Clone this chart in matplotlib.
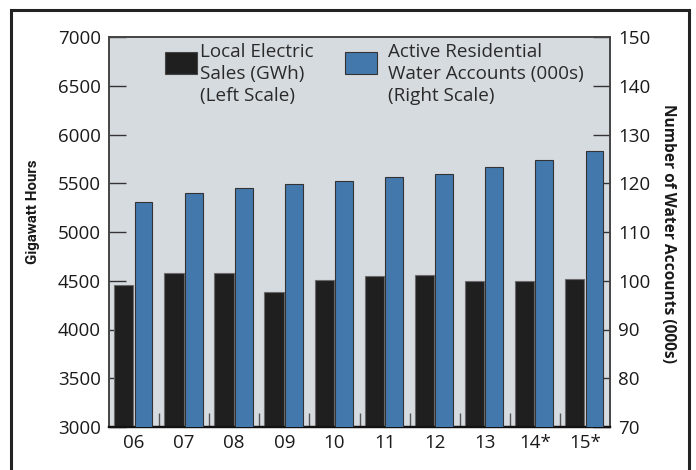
import matplotlib
matplotlib.use("Agg")
import matplotlib.pyplot as plt
from matplotlib.patches import Rectangle
import numpy as np

plt.rcParams['font.family'] = ['Open Sans', 'DejaVu Sans']

years = ["06", "07", "08", "09", "10", "11", "12", "13", "14*", "15*"]
electric_gwh = [4453, 4583, 4576, 4385, 4511, 4549, 4556, 4497, 4500, 4518]
water_accounts = [116.2, 117.9, 119.0, 119.8, 120.5, 121.35, 122.0, 123.3, 124.8, 126.55]
left_ticks = [3000, 3500, 4000, 4500, 5000, 5500, 6000, 6500, 7000]
right_ticks = [70, 80, 90, 100, 110, 120, 130, 140, 150]
legend_electric = ["Local Electric", "Sales (GWh)", "(Left Scale)"]
legend_water = ["Active Residential", "Water Accounts (000s)", "(Right Scale)"]

W, H = 696, 470
fig = plt.figure(figsize=(W / 100, H / 100), dpi=100)
fig.patch.set_facecolor('white')

# outer frame
fig.patches.append(Rectangle((11 / W, -0.05), (689 - 11) / W, 1 - 10 / H + 0.05,
                             transform=fig.transFigure, fill=False,
                             edgecolor='#222222', linewidth=2.2))

L, R, T, B = 109, 610, 37, 427
ax = fig.add_axes([L / W, 1 - B / H, (R - L) / W, (B - T) / H])
ax2 = ax.twinx()

ax.set_facecolor('#d6dbe0')
x = np.arange(len(years))
black = '#1f1f20'
blue = '#4378ac'
ax.bar(x - 0.205, electric_gwh, width=0.385, color=black, edgecolor='#6a6a6a',
       linewidth=0.8, zorder=3)
ax2.bar(x + 0.19, water_accounts, width=0.355, color=blue, edgecolor='#333333',
        linewidth=0.8, zorder=3)

ax.set_xlim(-0.5, len(years) - 0.5)
ax.set_ylim(3000, 7000)
ax2.set_ylim(70, 150)
ax.set_yticks(left_ticks)
ax2.set_yticks(right_ticks)
ax.set_xticks(x)
ax.set_xticklabels(years)
ax.set_xticks(np.arange(len(years) - 1) + 0.5, minor=True)

ax.tick_params(axis='y', direction='in', length=12, width=1, color='#333333',
               labelsize=13.5, pad=6, labelcolor='#1a1a1a')
ax2.tick_params(axis='y', direction='in', length=12, width=1, color='#333333',
                labelsize=13.5, pad=6, labelcolor='#1a1a1a')
ax.tick_params(axis='x', which='major', length=0, labelsize=13.5, pad=5,
               labelcolor='#1a1a1a')
ax.tick_params(axis='x', which='minor', direction='in', length=10, width=1,
               color='#555555')

for a in (ax, ax2):
    for s in a.spines.values():
        s.set_color('#444444')
        s.set_linewidth(1.2)
    a.spines['bottom'].set_color('#111111')
    a.spines['bottom'].set_linewidth(1.6)

fig.text(33 / W, 1 - 212 / H, 'Gigawatt Hours', rotation=90, ha='center',
         va='center', fontsize=10.8, fontweight='bold', color='#1a1a1a',
         family=['Roboto', 'DejaVu Sans'])
fig.text(668 / W, 1 - 234 / H, 'Number of Water Accounts (000s)', rotation=270,
         ha='center', va='center', fontsize=11.2, fontweight='bold', color='#1a1a1a')

# legend
tr = fig.transFigure
fig.patches.append(Rectangle((165 / W, 1 - 74 / H), 32 / W, 22 / H, transform=tr,
                             facecolor=black, edgecolor='#444444', linewidth=0.8))
fig.patches.append(Rectangle((345 / W, 1 - 74 / H), 32 / W, 22 / H, transform=tr,
                             facecolor=blue, edgecolor='#333333', linewidth=0.8))
for i, (a, b) in enumerate(zip(legend_electric, legend_water)):
    yb = 1 - (57 + 22 * i) / H
    fig.text(200 / W, yb, a, ha='left', va='baseline', fontsize=13.6, color='#2a2a2a')
    fig.text(388 / W, yb, b, ha='left', va='baseline', fontsize=13.6, color='#2a2a2a')

fig.savefig('out.png', dpi=100)
